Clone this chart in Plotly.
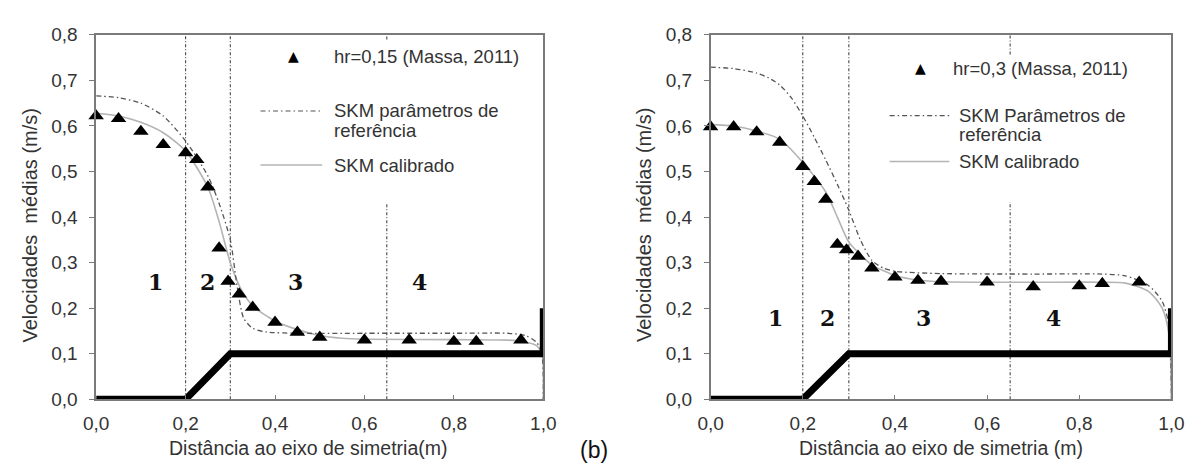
import plotly.graph_objects as go

# ---------------- data ----------------
x_ticks = [0.0, 0.2, 0.4, 0.6, 0.8, 1.0]
zone_bounds = [0.2, 0.3, 0.65]
zone_labels = ["1", "2", "3", "4"]

# bed profile (same for both panels)
bed_x = [0.0, 0.2, 0.3, 1.0, 1.0]
bed_y = [0.0, 0.0, 0.1, 0.1, 0.2]

# (a) hr = 0,15
obs15_x = [0.0, 0.05, 0.1, 0.15, 0.2, 0.225, 0.25, 0.275, 0.295, 0.32, 0.35, 0.4, 0.45, 0.5, 0.6, 0.7, 0.8, 0.85, 0.95]
obs15_y = [0.622, 0.616, 0.588, 0.559, 0.541, 0.526, 0.466, 0.332, 0.259, 0.231, 0.202, 0.169, 0.147, 0.136, 0.130, 0.130, 0.127, 0.127, 0.130]
ref15_x = [0.0, 0.05, 0.1, 0.15, 0.2, 0.25, 0.275, 0.3, 0.315, 0.33, 0.35, 0.38, 0.45, 0.6, 0.8, 0.92, 0.96, 0.985, 0.997, 1.0]
ref15_y = [0.666, 0.662, 0.650, 0.622, 0.567, 0.490, 0.430, 0.350, 0.250, 0.178, 0.156, 0.148, 0.145, 0.145, 0.145, 0.145, 0.140, 0.125, 0.10, 0.0]
cal15_x = [0.0, 0.05, 0.1, 0.15, 0.2, 0.25, 0.275, 0.3, 0.325, 0.35, 0.4, 0.45, 0.5, 0.55, 0.6, 0.8, 0.92, 0.96, 0.985, 0.997, 1.0]
cal15_y = [0.628, 0.622, 0.608, 0.585, 0.545, 0.465, 0.390, 0.300, 0.240, 0.205, 0.172, 0.153, 0.140, 0.134, 0.132, 0.131, 0.130, 0.126, 0.118, 0.10, 0.0]

# (b) hr = 0,3
obs30_x = [0.0, 0.05, 0.1, 0.15, 0.2, 0.225, 0.25, 0.275, 0.295, 0.32, 0.35, 0.4, 0.45, 0.5, 0.6, 0.7, 0.8, 0.85, 0.93]
obs30_y = [0.598, 0.598, 0.587, 0.564, 0.511, 0.478, 0.439, 0.340, 0.328, 0.314, 0.288, 0.268, 0.261, 0.259, 0.257, 0.247, 0.249, 0.254, 0.257]
ref30_x = [0.0, 0.05, 0.1, 0.125, 0.15, 0.175, 0.2, 0.225, 0.25, 0.275, 0.3, 0.325, 0.35, 0.375, 0.4, 0.5, 0.7, 0.85, 0.9, 0.95, 0.98, 0.995, 1.0]
ref30_y = [0.729, 0.726, 0.716, 0.706, 0.690, 0.662, 0.622, 0.575, 0.525, 0.472, 0.415, 0.350, 0.305, 0.288, 0.281, 0.276, 0.275, 0.275, 0.271, 0.250, 0.215, 0.160, 0.0]
cal30_x = [0.0, 0.05, 0.1, 0.15, 0.2, 0.25, 0.275, 0.3, 0.325, 0.35, 0.4, 0.45, 0.5, 0.7, 0.85, 0.9, 0.95, 0.98, 0.995, 1.0]
cal30_y = [0.603, 0.600, 0.589, 0.571, 0.520, 0.455, 0.400, 0.345, 0.318, 0.295, 0.272, 0.262, 0.258, 0.257, 0.257, 0.255, 0.237, 0.200, 0.140, 0.0]

legend_obs = ["hr=0,15 (Massa, 2011)", "hr=0,3 (Massa, 2011)"]
legend_ref = [["SKM parâmetros de", "referência"], ["SKM Parâmetros de", "referência"]]
legend_cal = "SKM calibrado"
x_title = ["Distância ao eixo de simetria(m)", "Distância ao eixo de simetria (m)"]
y_title = "Velocidades  médias (m/s)"

# ---------------- styling ----------------
W, H = 1204, 471
FONT = "Liberation Sans, Arial, sans-serif"
TXT = "#333333"
AXC = "#7a7a7a"

def px(x):
    return x / W

def py(y):
    return 1 - y / H

fig = go.Figure()

panels = [
    dict(xa="x", ya="y", obs=(obs15_x, obs15_y), ref=(ref15_x, ref15_y), cal=(cal15_x, cal15_y),
         dom=(85, 542), zone_y=0.258, zone_xs=[0.132, 0.249, 0.446, 0.723], top_gap=(0.429, 0.79),
         title_x=302),
    dict(xa="x2", ya="y2", obs=(obs30_x, obs30_y), ref=(ref30_x, ref30_y), cal=(cal30_x, cal30_y),
         dom=(713, 1184), zone_y=0.178, zone_xs=[0.140, 0.254, 0.461, 0.745], top_gap=(0.433, 0.757),
         title_x=948),
]

shapes = []
annotations = []

for i, p in enumerate(panels):
    xa, ya = p["xa"], p["ya"]
    fig.add_trace(go.Scatter(x=p["cal"][0], y=p["cal"][1], mode="lines", xaxis=xa, yaxis=ya,
                             line=dict(color="#b4b4b4", width=1.6, shape="spline", smoothing=0.7),
                             showlegend=False, hoverinfo="skip"))
    fig.add_trace(go.Scatter(x=p["ref"][0], y=p["ref"][1], mode="lines", xaxis=xa, yaxis=ya,
                             line=dict(color="#555555", width=1.3, dash="5px,3px,1.5px,3px",
                                       shape="spline", smoothing=0.7),
                             showlegend=False, hoverinfo="skip"))
    fig.add_trace(go.Scatter(x=bed_x, y=bed_y, mode="lines", xaxis=xa, yaxis=ya,
                             line=dict(color="black", width=7), cliponaxis=False,
                             showlegend=False, hoverinfo="skip"))
    fig.add_trace(go.Scatter(x=p["obs"][0], y=p["obs"][1], mode="markers", xaxis=xa, yaxis=ya,
                             marker=dict(symbol="triangle-up", size=13.5, color="black"),
                             cliponaxis=False, showlegend=False, hoverinfo="skip"))

    vstyle = dict(color="#444444", width=1.1, dash="3px,2px,1px,2px")
    for b in zone_bounds[:2]:
        shapes.append(dict(type="line", xref=xa, yref=ya, x0=b, x1=b, y0=0, y1=0.8, line=vstyle, layer="below"))
    b = zone_bounds[2]
    shapes.append(dict(type="line", xref=xa, yref=ya, x0=b, x1=b, y0=0, y1=p["top_gap"][0], line=vstyle, layer="below"))
    shapes.append(dict(type="line", xref=xa, yref=ya, x0=b, x1=b, y0=p["top_gap"][1], y1=0.8, line=vstyle, layer="below"))

    for lab, zx in zip(zone_labels, p["zone_xs"]):
        annotations.append(dict(x=zx, y=p["zone_y"], xref=xa, yref=ya, text="<b>%s</b>" % lab,
                                showarrow=False, font=dict(family="DejaVu Serif", size=22, color="#111111")))

    x0, x1 = p["dom"]
    annotations.append(dict(x=px(p["title_x"]), y=py(458), xref="paper", yref="paper",
                            text=x_title[i], showarrow=False, xanchor="center", yanchor="middle",
                            font=dict(family=FONT, size=19.5, color=TXT)))
    annotations.append(dict(x=px(x0 - 68), y=py(225), xref="paper", yref="paper", text=y_title,
                            textangle=-90, showarrow=False, xanchor="center", yanchor="middle",
                            font=dict(family=FONT, size=20, color=TXT)))

# ---- hand-made legends ----
leg = [
    dict(tri=(286.7, 48.3), obs_txt=(326, 48.3), line=(253, 316), txt_x=326, ref_y=(105.7, 125.7), cal_y=162.3),
    dict(tri=(927.5, 61), obs_txt=(959, 61), line=(896, 957), txt_x=965, ref_y=(110.6, 130.4), cal_y=158.5),
]
LFONT = dict(family=FONT, size=18.5, color=TXT)
for i, L in enumerate(leg):
    annotations.append(dict(x=px(L["tri"][0]), y=py(L["tri"][1]), xref="paper", yref="paper", text="▲",
                            showarrow=False, xanchor="center", yanchor="middle",
                            font=dict(family="DejaVu Sans", size=14, color="black")))
    annotations.append(dict(x=px(L["obs_txt"][0]), y=py(L["obs_txt"][1]), xref="paper", yref="paper",
                            text=legend_obs[i], showarrow=False, xanchor="left", yanchor="middle", font=LFONT))
    shapes.append(dict(type="line", xref="paper", yref="paper", x0=px(L["line"][0]), x1=px(L["line"][1]),
                       y0=py(L["ref_y"][0]), y1=py(L["ref_y"][0]),
                       line=dict(color="#555555", width=1.2, dash="5px,3px,1.5px,3px")))
    shapes.append(dict(type="line", xref="paper", yref="paper", x0=px(L["line"][0]), x1=px(L["line"][1]),
                       y0=py(L["cal_y"]), y1=py(L["cal_y"]), line=dict(color="#b4b4b4", width=1.6)))
    for t, yy in zip(legend_ref[i], L["ref_y"]):
        annotations.append(dict(x=px(L["txt_x"]), y=py(yy), xref="paper", yref="paper", text=t,
                                showarrow=False, xanchor="left", yanchor="middle", font=LFONT))
    annotations.append(dict(x=px(L["txt_x"]), y=py(L["cal_y"]), xref="paper", yref="paper", text=legend_cal,
                            showarrow=False, xanchor="left", yanchor="middle", font=LFONT))

annotations.append(dict(x=px(594), y=py(461), xref="paper", yref="paper", text="(b)", showarrow=False,
                        xanchor="center", yanchor="middle", font=dict(family=FONT, size=23, color="#111111")))

axis_common = dict(showline=True, mirror=True, linecolor=AXC, linewidth=1.5, showgrid=False, zeroline=False,
                   tickfont=dict(family=FONT, size=19, color=TXT), tickcolor=AXC, ticklen=5, tickwidth=1.2,
                   tickformat=".1f")
ydom = [py(407.5), py(26)]
fig.update_layout(
    width=W, height=H, margin=dict(l=0, r=0, t=0, b=0),
    paper_bgcolor="white", plot_bgcolor="white", separators=",.",
    showlegend=False,
    xaxis=dict(domain=[px(85), px(542)], range=[0, 1], tickvals=x_ticks, ticks="inside",
               anchor="y", ticklabelstandoff=6, **axis_common),
    yaxis=dict(domain=ydom, range=[0, 0.8], dtick=0.1, tick0=0, ticks="outside", anchor="x",
               ticklabelstandoff=8, **axis_common),
    xaxis2=dict(domain=[px(713), px(1184)], range=[0, 1], tickvals=x_ticks, ticks="inside",
                anchor="y2", ticklabelstandoff=6, **axis_common),
    yaxis2=dict(domain=ydom, range=[0, 0.8], dtick=0.1, tick0=0, ticks="outside", anchor="x2",
                ticklabelstandoff=8, **axis_common),
    shapes=shapes, annotations=annotations,
)

fig.write_html("out.html", config={"displayModeBar": False},
               post_script="document.body.style.margin='0';")
